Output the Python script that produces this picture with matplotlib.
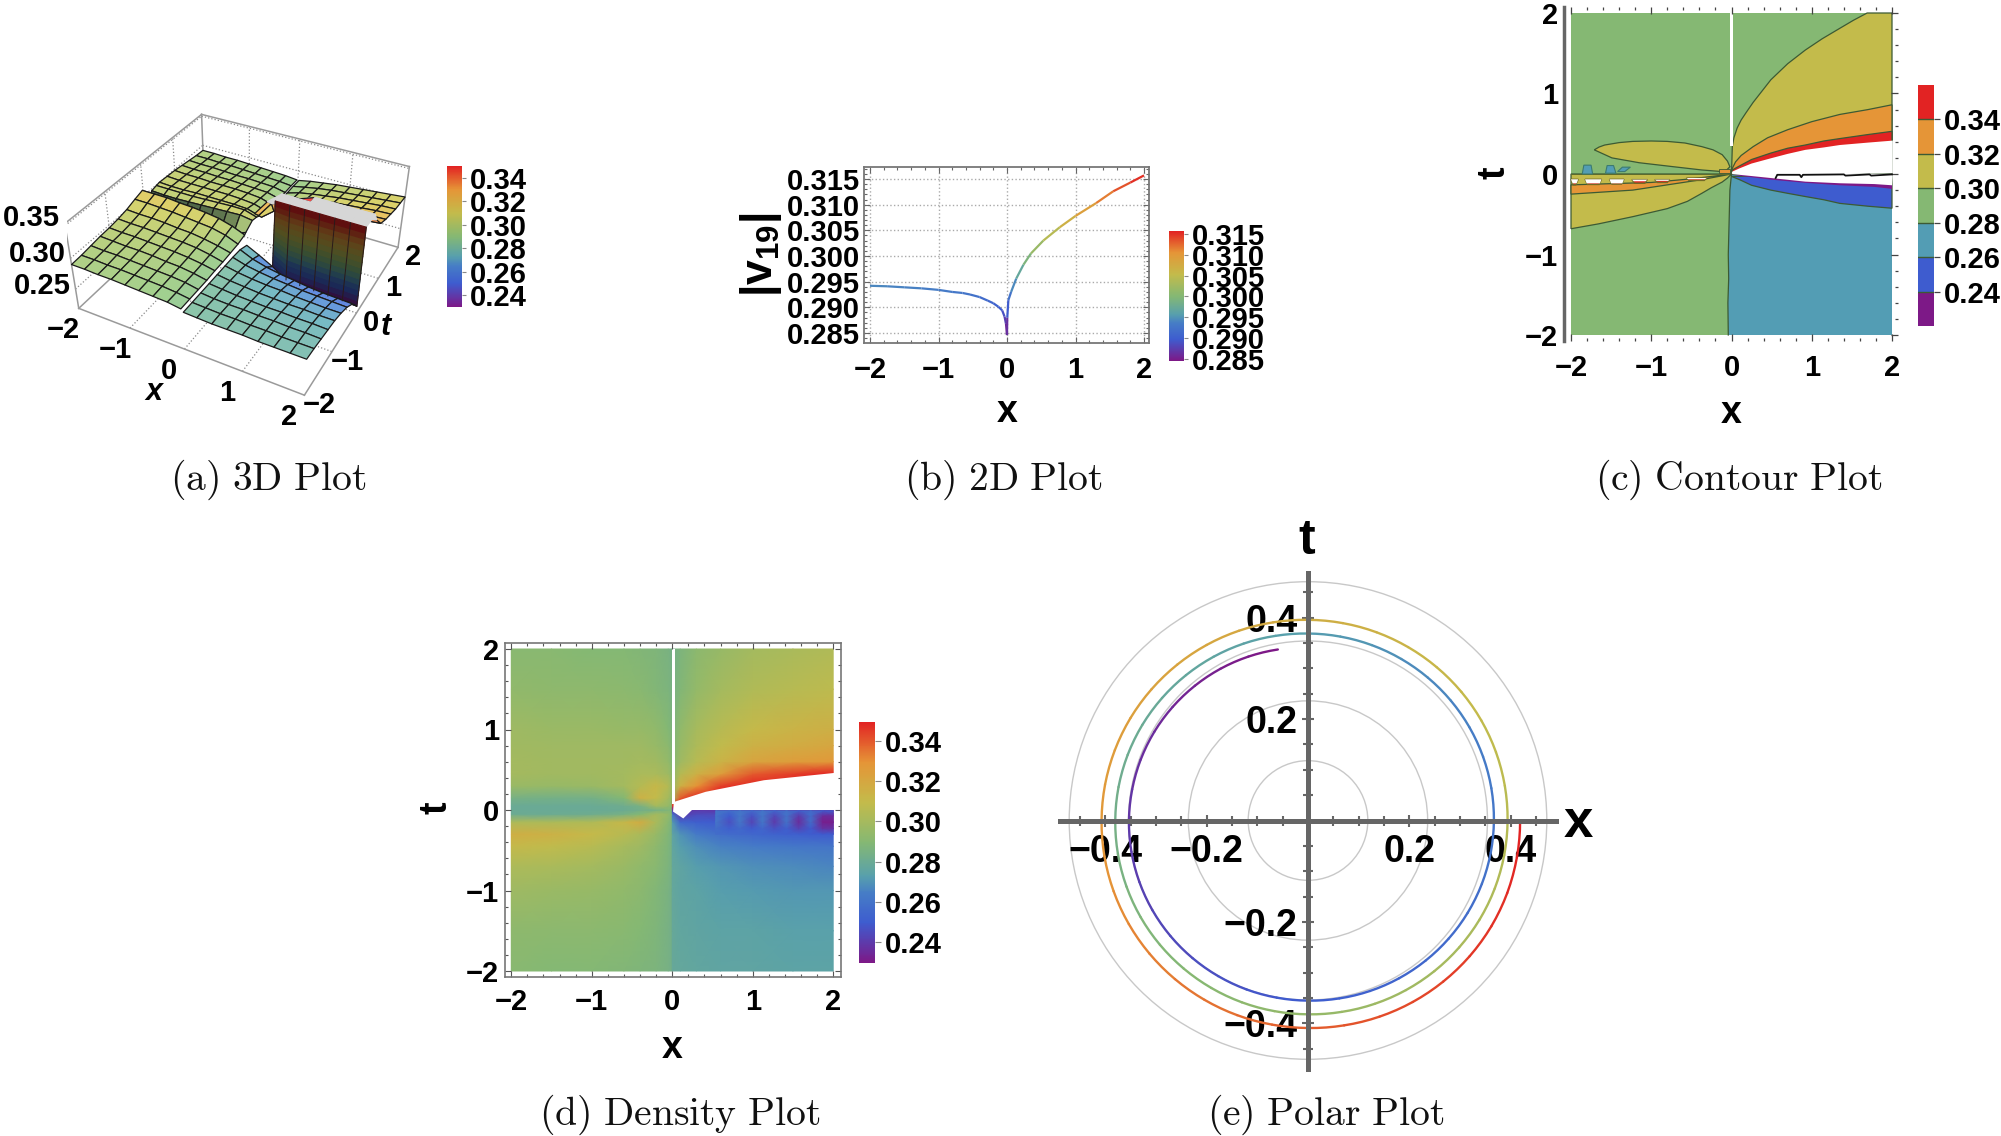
import numpy as np
import matplotlib
matplotlib.use('Agg')
import matplotlib.pyplot as plt
from matplotlib.colors import LinearSegmentedColormap, Normalize, ListedColormap
from matplotlib.cm import ScalarMappable
from matplotlib.collections import LineCollection
from matplotlib.patches import Circle
from matplotlib.ticker import MultipleLocator
from mpl_toolkits.mplot3d import proj3d
from mpl_toolkits.mplot3d.art3d import Poly3DCollection

W, H = 2001, 1136
plt.rcParams['font.family'] = ['Liberation Sans', 'DejaVu Sans']
plt.rcParams['font.weight'] = 'bold'
plt.rcParams['mathtext.fontset'] = 'custom'
plt.rcParams['mathtext.bf'] = 'Liberation Sans:bold'
plt.rcParams['mathtext.rm'] = 'Liberation Sans:bold'

rainbow = LinearSegmentedColormap.from_list('rb', [
    (0.0, (125/255, 25/255, 135/255)), (1/6, (62/255, 92/255, 207/255)), (0.29, (70/255, 125/255, 198/255)),
    (0.36, (88/255, 160/255, 172/255)), (3/6, (133/255, 184/255, 115/255)),
    (4/6, (195/255, 187/255, 75/255)), (5/6, (229/255, 149/255, 55/255)),
    (1.0, (226/255, 35/255, 35/255))])

# ---------- data: panel (b) ----------
b_x = [-2, -1.75, -1.5, -1.25, -1, -0.8, -0.65, -0.54, -0.4, -0.28, -0.2, -0.125, -0.07, -0.036, -0.015, 0,
       0.004, 0.02, 0.06, 0.135, 0.24, 0.35, 0.53, 0.77, 1, 1.3, 1.55, 1.8, 2]
b_y = [0.2942, 0.2941, 0.2939, 0.2937, 0.2934, 0.2930, 0.2928, 0.2925, 0.2920, 0.2913, 0.2908, 0.2901, 0.2894, 0.2882, 0.2868, 0.2846,
       0.2880, 0.2914, 0.2930, 0.2956, 0.2983, 0.3005, 0.3030, 0.3056, 0.3078, 0.3103, 0.3126, 0.3143, 0.3157]
b_ticks_y = [0.285, 0.290, 0.295, 0.300, 0.305, 0.310, 0.315]

# ---------- data: panel (e) ----------
e_theta_deg = list(range(100, 1090, 10))
e_r = [.3425, .344, .3455, .347, .3485, .350, .3512, .3522,
       .3532, .3537, .354, .3542, .3543, .3543, .3544, .3546, .3548, .3553, .3563, .3578, .3593, .3608, .3623, .3638, .3650, .3660,
       .3667, .3672, .3675, .3677, .3678, .3678, .3679, .3681, .3683, .3688, .3698, .3713, .3728, .3743, .3758, .3773, .3785, .3795,
       .3802, .3807, .381, .3812, .3813, .3813, .3814, .3816, .3818, .3823, .3833, .3848, .3863, .3878, .3893, .3908, .392, .393,
       .3937, .3942, .3945, .3947, .3948, .3948, .3949, .3951, .3953, .3958, .3968, .3983, .3998, .4013, .4028, .4043, .4055, .4065,
       .4072, .4077, .408, .4082, .4083, .4083, .4084, .4086, .4088, .4093, .4103, .4118, .4133, .4148, .4163, .4175, .4182, .4184, .4184]
e_grid_r = [0.118, 0.236, 0.354, 0.471]
e_ticks = [-0.4, -0.2, 0.2, 0.4]

# ---------- data: panel (d) ----------
d_x = [-2, -1.5, -1, -.6, -.4, -.2, -.05, -.001, .001, .1, .3, .6, 1, 1.5, 2]
d_t = [-2, -1.5, -1, -.7, -.45, -.3, -.15, -.05, 0, .05, .15, .3, .45, .6, .8, 1, 1.5, 2]
d_z = [
 [.291, .290, .290, .289, .288, .287, .285, .283, .279, .278, .277, .276, .276, .275, .275],
 [.293, .292, .292, .291, .290, .288, .285, .283, .279, .277, .276, .275, .275, .274, .274],
 [.298, .297, .296, .294, .292, .289, .286, .283, .278, .276, .275, .273, .272, .271, .271],
 [.303, .302, .300, .297, .294, .291, .287, .284, .278, .276, .273, .271, .269, .268, .267],
 [.311, .309, .306, .301, .298, .293, .288, .284, .277, .273, .269, .266, .264, .262, .261],
 [.317, .315, .311, .306, .302, .296, .289, .285, .276, .270, .264, .259, .255, .252, .250],
 [.303, .303, .304, .312, .318, .302, .291, .286, .272, .255, .252, .250, .246, .243, .240],
 [.281, .281, .282, .285, .290, .300, .295, .288, .260, .240, .245, .245, .245, .240, .235],
 [.280, .280, .280, .281, .283, .285, .288, .288, .240, .240, .240, .240, .240, .235, .235],
 [.280, .280, .280, .282, .285, .300, .295, .290, .350, .350, .350, .350, .350, .350, .350],
 [.285, .284, .284, .290, .315, .310, .300, .294, .300, .340, .350, .350, .350, .350, .350],
 [.297, .296, .297, .300, .305, .312, .305, .297, .295, .315, .330, .345, .350, .350, .350],
 [.300, .299, .299, .300, .302, .302, .298, .293, .292, .305, .315, .325, .340, .345, .350],
 [.300, .299, .299, .299, .300, .299, .295, .290, .290, .298, .306, .314, .322, .326, .328],
 [.299, .298, .298, .298, .298, .296, .292, .288, .288, .296, .303, .309, .315, .318, .321],
 [.298, .297, .297, .296, .296, .294, .290, .287, .287, .294, .301, .306, .311, .314, .316],
 [.294, .293, .293, .292, .291, .289, .287, .285, .285, .289, .295, .300, .304, .306, .308],
 [.291, .291, .290, .290, .289, .288, .286, .284, .284, .287, .292, .296, .300, .302, .304]]
ds_x = [.54, .71, .84, .99, 1.12, 1.27, 1.42, 1.57, 1.72, 1.87, 2]
ds_t = [-.3, -.23, -.15, -.07, -.01]
ds_z = [[.258, .257, .256, .255, .254, .253, .252, .252, .251, .250, .250],
        [.258, .252, .256, .250, .255, .247, .252, .243, .250, .238, .238],
        [.262, .246, .262, .243, .262, .240, .260, .236, .258, .232, .232],
        [.262, .250, .262, .247, .262, .244, .260, .240, .258, .236, .236],
        [.262, .258, .262, .256, .262, .254, .260, .252, .258, .250, .250]]
d_hole_x = [.02, .415, 1.14, 2.01, 2.01, .245, .137, .01]
d_hole_t = [.10, .226, .37, .46, 0, 0, -.105, -.02]

# ---------- data: panel (c) ----------
c_div_x = [-.04, -.045, -.035, -.04, -.03, -.02, 0]
c_div_t = [-2, -1.6, -1.3, -1, -.6, -.2, 0]
c_30_x = [.01, .03, .07, .12, .18, .27, .38, .49, .7, .92, 1.13, 1.35, 1.52, 1.69]
c_30_t = [.34, .45, .57, .67, .76, .89, 1.03, 1.17, 1.37, 1.54, 1.68, 1.81, 1.91, 2.0]
c_32_x = [.01, .05, .12, .27, .45, .7, 1, 1.35, 1.7, 2]
c_32_t = [.07, .15, .23, .34, .45, .55, .65, .74, .80, .86]
c_34_x = [.01, .1, .25, .49, .7, .92, 1.15, 1.35, 1.7, 2]
c_34_t = [.05, .10, .18, .26, .32, .36, .41, .44, .49, .53]
c_ht_x = [.01, .1, .25, .49, .7, .92, 1.15, 1.35, 1.7, 2.01]
c_ht_t = [.03, .07, .13, .195, .25, .30, .33, .36, .39, .415]
c_pur_x = [0, .49, .92, 1.35, 1.78, 2]
c_pur_top = [0, -.05, -.095, -.115, -.125, -.14]
c_pur_bot = [-.01, -.07, -.11, -.14, -.16, -.185]
c_blu_x = [0, .1, .25, .49, .7, .92, 1.15, 1.35, 1.7, 2]
c_blu_t = [-.03, -.07, -.14, -.2, -.24, -.28, -.32, -.365, -.40, -.425]
c_blk_x = [.55, .57, .85, .87, .89, 1.4, 1.42, 1.72, 1.74, 2]
c_blk_t = [-.05, -.01, -.01, -.04, -.01, -.005, -.02, -.005, -.02, -.005]
c_lo_x = [-2, -1.66, -1.23, -.8, -.55, -.37, -.25, -.116, -.05, 0]
c_lo_t = [-.68, -.62, -.53, -.43, -.34, -.24, -.17, -.1, -.05, 0]
c_or_x = [-2, -1.23, -.37, 0]
c_or_t = [-.25, -.2, -.07, 0]
c_ot_x = [-2, -1, -.5, 0]
c_ot_t = [-.135, -.105, -.06, 0]
c_wh_l = [-2.0, -1.825, -1.52, -1.24, -.955, -.56]
c_wh_r = [-1.91, -1.62, -1.34, -1.05, -.77, -.31]
c_wh_top = [-.066, -.066, -.066, -.07, -.07, -.05]
c_wh_bot = [-.116, -.116, -.116, -.09, -.085, -.065]
c_re_bot = [-.135, -.13, -.125, -.115, -.105, -.08]
c_lobe_x = [-1.71, -1.65, -1.58, -1.4, -1.23, -1.0, -.80, -.58, -.37, -.23, -.116, -.05, -.02, -.06, -.116, -.37, -.72, -1.15, -1.49]
c_lobe_t = [.30, .335, .36, .39, .405, .41, .405, .385, .34, .30, .24, .16, .09, .05, .03, .05, .09, .14, .20]
c_bl1_x = [-1.84, -1.75, -1.73, -1.86]
c_bl1_t = [.11, .11, 0, 0]
c_bl2_x = [-1.55, -1.47, -1.44, -1.57]
c_bl2_t = [.105, .105, .01, .01]
c_bl3_x = [-1.36, -1.26, -1.33, -1.42]
c_bl3_t = [.085, .085, .03, .03]

# ---------- data: panel (a) ----------
a_x = [-2, -1.75, -1.5, -1.25, -1, -.75, -.5, -.25, -.02, .02, .25, .5, .75, 1, 1.25, 1.5, 1.75, 2]
a_t = [-2, -1.75, -1.5, -1.25, -1, -.75, -.5, -.25, -.02, .02, .25, .4, .5, .75, 1, 1.25, 1.5, 1.75, 2]
N = np.nan
a_z = [
 [.290, .290, .289, .289, .288, .287, .286, .285, .282, .278, .277, .276, .276, .276, .275, .275, .275, .275],
 [.291, .291, .290, .290, .289, .288, .287, .285, .282, .278, .277, .276, .276, .275, .275, .274, .274, .274],
 [.293, .292, .292, .291, .290, .289, .288, .286, .282, .278, .276, .275, .275, .274, .274, .273, .273, .272],
 [.295, .294, .293, .293, .292, .290, .289, .286, .282, .278, .276, .274, .273, .272, .272, .271, .271, .270],
 [.296, .295, .295, .294, .293, .292, .290, .287, .283, .278, .275, .273, .271, .270, .269, .269, .268, .268],
 [.298, .297, .297, .296, .295, .294, .292, .288, .283, .278, .274, .271, .269, .268, .266, .265, .264, .264],
 [.301, .300, .300, .299, .297, .296, .293, .289, .284, .278, .272, .268, .265, .263, .261, .260, .259, .258],
 [.306, .306, .305, .304, .302, .300, .298, .293, .285, .277, .268, .262, .258, .255, .252, .250, .249, .248],
 [.310, .310, .310, .308, .307, .305, .302, .296, .288, .272, .262, .250, .235, .233, .232, .231, .231, .230],
 [.270, .270, .270, .272, .274, .276, .278, .282, .290, N, N, .353, .353, .353, .353, .353, .353, .353],
 [.297, .296, .296, .297, .298, .299, .300, .301, .298, .310, .335, .353, .353, .353, .353, .353, .353, .353],
 [.299, .299, .299, .299, .300, .301, .302, .302, .296, .300, .325, .328, .345, .353, .353, .353, .353, .353],
 [.300, .299, .299, .300, .300, .300, .300, .299, .293, .292, .308, .318, .322, .326, .330, .333, .336, .340],
 [.299, .298, .298, .298, .298, .298, .297, .295, .289, .288, .300, .308, .312, .315, .317, .319, .320, .322],
 [.298, .297, .297, .296, .296, .296, .295, .293, .287, .287, .296, .302, .306, .310, .312, .314, .315, .316],
 [.296, .295, .295, .294, .294, .293, .292, .291, .286, .286, .293, .298, .302, .305, .307, .309, .311, .312],
 [.294, .293, .293, .292, .291, .291, .290, .289, .285, .285, .291, .295, .298, .301, .303, .305, .307, .308],
 [.292, .292, .291, .291, .290, .289, .288, .287, .285, .285, .289, .293, .296, .298, .300, .302, .304, .306],
 [.291, .291, .290, .290, .289, .288, .287, .286, .284, .284, .288, .291, .294, .296, .298, .300, .302, .304]]
a_ticks_xy = [-2, -1, 0, 1, 2]
a_ticks_z = [0.25, 0.30, 0.35]
a_zlim = (0.217, 0.353)

cbar_a = [0.24, 0.26, 0.28, 0.30, 0.32, 0.34]
cbar_b = [0.285, 0.290, 0.295, 0.300, 0.305, 0.310, 0.315]

fig = plt.figure(figsize=(W/100, H/100), dpi=100, facecolor='white')


def px_axes(x0, y0, x1, y1, **kw):
    return fig.add_axes([x0/W, 1 - y1/H, (x1-x0)/W, (y1-y0)/H], **kw)


def ftext(x, y, s, **kw):
    kw.setdefault('ha', 'center')
    kw.setdefault('va', 'center')
    return fig.text(x/W, 1 - y/H, s, **kw)


def add_cbar(rect, vmin, vmax, ticks, fs, fmt='%.2f', pad=3, length=4):
    cax = px_axes(*rect)
    cb = fig.colorbar(ScalarMappable(Normalize(vmin, vmax), cmap=rainbow), cax=cax)
    cb.outline.set_visible(False)
    cb.set_ticks(ticks)
    cb.set_ticklabels([fmt % t for t in ticks])
    cax.tick_params(axis='y', length=length, width=0.8, color='#888888', pad=pad, labelsize=fs, direction='out')
    return cb


def caption(x, y, s):
    ftext(x, y, '$\\mathrm{' + s.replace(' ', '\\ ') + '}$', fontsize=28.5, math_fontfamily='cm', color='#111111')


for cx, cy, s in [(268, 480, '(a) 3D Plot'), (1003, 480, '(b) 2D Plot'), (1739, 480, '(c) Contour Plot'),
                  (680, 1115, '(d) Density Plot'), (1326, 1115, '(e) Polar Plot')]:
    caption(cx, cy, s)

XL = ['\u22122', '\u22121', '0', '1', '2']
FS = 21

# ---------- (b) 2D plot ----------
ax = px_axes(864, 167, 1149, 343)
ax.set_xlim(-2 - 6/68.5, 2 + 5/68.5)
per = 0.030 / (333 - 179)
ax.set_ylim(0.285 - (343-333)*per, 0.315 + (179-167)*per)
bx = np.array(b_x); by = np.array(b_y)
segs = np.stack([np.column_stack([bx[:-1], by[:-1]]), np.column_stack([bx[1:], by[1:]])], axis=1)
lc = LineCollection(segs, cmap=rainbow, norm=Normalize(0.2845, 0.3157), linewidth=1.6)
lc.set_array((by[:-1] + by[1:]) / 2)
ax.add_collection(lc)
ax.set_xticks([-2, -1, 0, 1, 2]); ax.set_xticklabels(XL)
ax.set_yticks(b_ticks_y); ax.set_yticklabels(['%.3f' % v for v in b_ticks_y])
ax.xaxis.set_minor_locator(MultipleLocator(0.2)); ax.yaxis.set_minor_locator(MultipleLocator(0.001))
ax.grid(True, which='major', ls=':', lw=1.0, color='#aaaaaa')
ax.tick_params(which='both', direction='in', top=True, right=True, color='#666666', width=0.8)
ax.tick_params(which='major', length=4)
ax.tick_params(which='minor', length=2)
ax.tick_params(axis='x', which='major', pad=9, labelsize=FS)
ax.tick_params(axis='y', which='major', pad=3, labelsize=FS)
for sp in ax.spines.values():
    sp.set_color('#777777'); sp.set_linewidth(1.3)
ftext(1007, 412, 'x', fontsize=27)
ftext(761, 255, '$\\mathbf{|v_{19}|}$', fontsize=32, rotation=90)
add_cbar((1169, 231, 1184, 361), 0.2845, 0.3157, cbar_b, FS, fmt='%.3f', pad=3, length=3)

# ---------- (c) contour plot ----------
ax = px_axes(1563.5, 7, 1898, 341)
ax.set_xlim(-2 - 7.5/80.25, 2 + 6/80.25)
ax.set_ylim(-2 - 6/80.5, 2 + 6/80.5)
GREEN = (133/255, 184/255, 115/255); TEAL = (83/255, 157/255, 180/255); OLIVE = (195/255, 187/255, 75/255)
ORANGE = (229/255, 149/255, 55/255); RED = (226/255, 35/255, 35/255); BLUE = (62/255, 92/255, 207/255)
PURPLE = (125/255, 25/255, 135/255)
DK = '#3c5a34'
LINE = dict(edgecolor=DK, linewidth=0.9)
ax.fill([-2, 2, 2, -2], [-2, -2, 2, 2], color=GREEN, lw=0)
ax.fill(c_div_x + [2, 2], c_div_t + [0, -2], facecolor=TEAL, edgecolor='none')
ax.plot(c_div_x, c_div_t, color=DK, lw=0.9)
ax.fill(c_30_x + [2, 2, 0], c_30_t + [2, 0, 0], facecolor=OLIVE, **LINE)
ax.fill(c_32_x + [2, 0], c_32_t + [0, 0], facecolor=ORANGE, **LINE)
ax.fill(c_34_x + [2, 0], c_34_t + [0, 0], facecolor=RED, **LINE)
ax.fill(c_ht_x + [2.01, 0], c_ht_t + [0, 0], facecolor='white', edgecolor='none', clip_on=False)
ax.fill(c_blu_x + [2], c_blu_t + [0], facecolor=BLUE, **LINE)
ax.fill(c_pur_x + [2], c_pur_bot + [0], facecolor=PURPLE, edgecolor='none')
ax.fill(c_pur_x + [2.01, 0], c_pur_top + [0, 0], facecolor='white', edgecolor='none', clip_on=False)
ax.plot(c_blk_x, c_blk_t, color='#111111', lw=1.3)
ax.fill(c_lo_x + [-2], c_lo_t + [0], facecolor=OLIVE, **LINE)
ax.fill(c_lobe_x, c_lobe_t, facecolor=OLIVE, **LINE)
ax.fill(c_or_x + c_ot_x[::-1], c_or_t + c_ot_t[::-1], facecolor=ORANGE, **LINE)
for l, r, tp, bt, rb in zip(c_wh_l, c_wh_r, c_wh_top, c_wh_bot, c_re_bot):
    ax.fill([l, r, r - 0.03, l + 0.03], [tp, tp, rb, rb], facecolor=RED, edgecolor=(.45, .42, .15), linewidth=1.0)
    ax.fill([l, r, r - 0.02, l + 0.02], [tp, tp, bt, bt], facecolor='white', edgecolor='none')
ax.fill([-2, -.02, -.02, -2], [-.016, -.016, -.004, -.004], facecolor='#5d6b2c', edgecolor='none')
ax.fill([-.16, -.02, -.02, -.16], [.01, .01, .06, .06], facecolor=ORANGE, edgecolor=DK, linewidth=0.6)
for bx_, bt_ in [(c_bl1_x, c_bl1_t), (c_bl2_x, c_bl2_t), (c_bl3_x, c_bl3_t)]:
    ax.fill(bx_, bt_, facecolor=TEAL, edgecolor='#3c7a70', linewidth=0.8)
ax.fill([-.02, .02, .02, -.02], [.35, .35, 2, 2], color='white', lw=0)
ax.set_xticks([-2, -1, 0, 1, 2]); ax.set_xticklabels(XL)
ax.set_yticks([-2, -1, 0, 1, 2]); ax.set_yticklabels(XL)
ax.xaxis.set_minor_locator(MultipleLocator(0.2)); ax.yaxis.set_minor_locator(MultipleLocator(0.2))
ax.tick_params(which='both', direction='in', top=True, right=True, left=False, color='#444444', width=0.9)
ax.tick_params(which='major', length=5); ax.tick_params(which='minor', length=2.5)
ax.tick_params(axis='x', pad=9, labelsize=FS); ax.tick_params(axis='y', which='major', pad=4, labelsize=FS)
for k in ['top', 'right', 'bottom']:
    ax.spines[k].set_visible(False)
ax.spines['left'].set_color('#666666'); ax.spines['left'].set_linewidth(2.5)
ftext(1731.6, 413, 'x', fontsize=27)
ftext(1494.5, 173, 't', fontsize=27, rotation=90)
cax = px_axes(1917.6, 85, 1933.8, 326)
band_lv = [0.22, 0.24, 0.26, 0.28, 0.30, 0.32, 0.34, 0.36]
band_col = [PURPLE, BLUE, TEAL, GREEN, OLIVE, ORANGE, RED]
cax.pcolormesh([0, 1], band_lv, np.arange(7).reshape(-1, 1), cmap=ListedColormap(band_col), shading='flat')
cax.set_xticks([]); cax.yaxis.tick_right()
cax.set_yticks(cbar_a); cax.set_yticklabels(['%.2f' % v for v in cbar_a])
cax.tick_params(axis='y', length=4, width=0.9, color='#444444', pad=3, labelsize=FS)
for sp in cax.spines.values():
    sp.set_visible(False)
for lv in cbar_a:
    cax.plot([0, 1], [lv, lv], color=DK, lw=1.0)
cax.set_xlim(0, 1); cax.set_ylim(0.22, 0.36)

# ---------- (d) density plot ----------
ax = px_axes(504.7, 643, 840.5, 977)
ax.set_xlim(-2 - 6.6/80.5, 2 + 7.3/80.5)
ax.set_ylim(-2 - 6/80.5, 2 + 6/80.5)
norm_d = Normalize(0.23, 0.35)
XD, TD = np.meshgrid(d_x, d_t)
ax.pcolormesh(XD, TD, np.array(d_z), cmap=rainbow, norm=norm_d, shading='gouraud')
XS, TS = np.meshgrid(ds_x, ds_t)
ax.pcolormesh(XS, TS, np.array(ds_z), cmap=rainbow, norm=norm_d, shading='gouraud')
ax.fill(d_hole_x, d_hole_t, color='white', lw=0)
ax.fill([-.0, .035, .035, -.0], [.08, .08, 2, 2], color='white', lw=0)
ax.set_xticks([-2, -1, 0, 1, 2]); ax.set_xticklabels(XL)
ax.set_yticks([-2, -1, 0, 1, 2]); ax.set_yticklabels(XL)
ax.xaxis.set_minor_locator(MultipleLocator(0.2)); ax.yaxis.set_minor_locator(MultipleLocator(0.2))
ax.tick_params(which='both', direction='in', top=True, right=True, color='#555555', width=0.8)
ax.tick_params(which='major', length=4); ax.tick_params(which='minor', length=2)
ax.tick_params(axis='x', pad=8, labelsize=FS); ax.tick_params(axis='y', which='major', pad=4, labelsize=FS)
for sp in ax.spines.values():
    sp.set_color('#777777'); sp.set_linewidth(1.2)
ftext(672.4, 1048, 'x', fontsize=27)
ftext(436.5, 808, 't', fontsize=27, rotation=90)
add_cbar((859.4, 722, 875, 963), 0.2295, 0.3495, cbar_a, FS, pad=3)

# ---------- (e) polar plot ----------
CX, CY, S, EXT = 1308, 820.5, 507, 248
ax = px_axes(CX - EXT, CY - EXT, CX + EXT, CY + EXT)
ax.set_xlim(-EXT/S, EXT/S); ax.set_ylim(-EXT/S, EXT/S)
for r in e_grid_r:
    ax.add_patch(Circle((0, 0), r, fill=False, edgecolor='#c8c8c8', linewidth=1.0))
# each read step is swept as a polar segment between two read values, as a polar axis would draw it
segs_e, seg_c = [], []
for k in range(len(e_r) - 1):
    s_ = np.linspace(0, 1, 5)
    th = np.radians(e_theta_deg[k] + (e_theta_deg[k+1]-e_theta_deg[k])*s_)
    rr = e_r[k] + (e_r[k+1]-e_r[k])*s_
    segs_e.append(np.column_stack([rr*np.cos(th), rr*np.sin(th)]))
    seg_c.append(k)
lc = LineCollection(segs_e, cmap=rainbow, norm=Normalize(0, len(e_r)-2), linewidth=1.7, capstyle='round')
lc.set_array(np.array(seg_c))
ax.add_collection(lc)
for k in ['top', 'right']:
    ax.spines[k].set_visible(False)
for k in ['left', 'bottom']:
    ax.spines[k].set_position('zero'); ax.spines[k].set_color('#666666'); ax.spines[k].set_linewidth(3.6)
ETL = ['\u22120.4', '\u22120.2', '0.2', '0.4']
ax.set_xticks(e_ticks); ax.set_xticklabels(ETL)
ax.set_yticks(e_ticks); ax.set_yticklabels(ETL)
ax.xaxis.set_minor_locator(MultipleLocator(0.05)); ax.yaxis.set_minor_locator(MultipleLocator(0.05))
ax.tick_params(which='both', direction='inout', color='#666666', width=1.5)
ax.tick_params(which='major', length=9); ax.tick_params(which='minor', length=7)
ax.tick_params(axis='x', which='major', pad=5, labelsize=27); ax.tick_params(axis='y', which='major', pad=3, labelsize=27)
ax.patch.set_alpha(0)
ftext(1578, 823, 'x', fontsize=38)
ftext(1307, 541, 't', fontsize=36)

# ---------- (a) 3D plot ----------
ax3 = fig.add_axes([0, 0, 1, 1], projection='3d')
ax3.set_axis_off(); ax3.patch.set_alpha(0)
ax3.set_xlim(-2, 2); ax3.set_ylim(-2, 2); ax3.set_zlim(*a_zlim)
zl, zt = a_zlim
ax3.set_box_aspect((1, 1, 0.42)); ax3.set_proj_type('persp', focal_length=0.42); ax3.view_init(36, -62)
sx, sy, tx, ty = 1892.4, 1883.1, 246.3, 236.5
vl = ax3.viewLim
left = tx + sx*vl.x0; right = tx + sx*vl.x1; top = ty - sy*vl.y1; bottom = ty - sy*vl.y0
ax3.apply_aspect = lambda position=None: None
ax3.set_position([left/W, 1 - bottom/H, (right-left)/W, (bottom-top)/H], which='both')
ax3.computed_zorder = False

GRIDC = '#8a8a8a'; BOXC = '#9a9a9a'
def l3(xs, ys, zs, **kw):
    ax3.plot(xs, ys, zs, **kw)
for v in [-1, 0, 1]:
    l3([v, v], [-2, 2], [zl, zl], color=GRIDC, ls=':', lw=0.9, zorder=1)
    l3([-2, 2], [v, v], [zl, zl], color=GRIDC, ls=':', lw=0.9, zorder=1)
    l3([-2, -2], [v, v], [zl, zt], color=GRIDC, ls=':', lw=0.9, zorder=1)
    l3([v, v], [2, 2], [zl, zt], color=GRIDC, ls=':', lw=0.9, zorder=1)
for v in a_ticks_z:
    l3([-2, -2], [-2, 2], [v, v], color=GRIDC, ls=':', lw=0.9, zorder=1)
    l3([-2, 2], [2, 2], [v, v], color=GRIDC, ls=':', lw=0.9, zorder=1)
for p, q in [((-2, -2, zl), (2, -2, zl)), ((2, -2, zl), (2, 2, zl)), ((2, 2, zl), (-2, 2, zl)), ((-2, 2, zl), (-2, -2, zl)),
             ((-2, -2, zl), (-2, -2, zt)), ((-2, 2, zl), (-2, 2, zt)), ((2, 2, zl), (2, 2, zt)),
             ((-2, -2, zt), (-2, 2, zt)), ((-2, 2, zt), (2, 2, zt))]:
    l3([p[0], q[0]], [p[1], q[1]], [p[2], q[2]], color=BOXC, lw=1.1, zorder=1)

norm_a = Normalize(0.231, 0.348)
Z = np.array(a_z)
polys, fcs, ecs = [], [], []
for i in range(len(a_t) - 1):
    for j in range(len(a_x) - 1):
        if j == 8:
            continue
        q = Z[i:i+2, j:j+2]
        if np.isnan(q).any():
            continue
        x0, x1, t0, t1 = a_x[j], a_x[j+1], a_t[i], a_t[i+1]
        dz = q[1].mean() - q[0].mean()
        slope = dz / (t1 - t0)
        if slope > 0.5 and abs(dz) > 0.03:
            for k in range(14):
                u0, u1 = k/14, (k+1)/14
                z00 = q[0, 0] + (q[1, 0]-q[0, 0])*u0; z01 = q[0, 1] + (q[1, 1]-q[0, 1])*u0
                z10 = q[0, 0] + (q[1, 0]-q[0, 0])*u1; z11 = q[0, 1] + (q[1, 1]-q[0, 1])*u1
                tt0 = t0 + (t1-t0)*u0; tt1 = t0 + (t1-t0)*u1
                polys.append([(x0, tt0, z00), (x1, tt0, z01), (x1, tt1, z11), (x0, tt1, z10)])
                c = np.array(rainbow(norm_a((z00+z01+z10+z11)/4)))[:3] * 0.42
                fcs.append(tuple(c)); ecs.append(tuple(c))
            continue
        polys.append([(x0, t0, q[0, 0]), (x1, t0, q[0, 1]), (x1, t1, q[1, 1]), (x0, t1, q[1, 0])])
        if q.min() >= 0.3525 or (q.max() >= 0.35 and slope < -0.05):
            c = (0.84, 0.84, 0.84); e = (0.84, 0.84, 0.84)
        else:
            base = np.array(rainbow(norm_a(q.mean() + 0.004)))[:3]
            shade = 1.0 if slope < 0.05 else max(0.5, 1 - (slope - 0.05)*9)
            c = tuple(np.clip((base*0.86 + 0.14)*1.07*shade, 0, 1)); e = (0.1, 0.1, 0.1)
        fcs.append(c); ecs.append(e)
pc = Poly3DCollection(polys, facecolors=fcs, edgecolors=ecs, linewidths=0.9, zorder=2)
ax3.add_collection3d(pc)
for j in range(11, len(a_x)):
    l3([a_x[j], a_x[j]], [-.02, .02], [Z[8, j], Z[9, j]], color='#2a1a1a', lw=0.7, zorder=3)
ax3.set_xlim(-2, 2); ax3.set_ylim(-2, 2); ax3.set_zlim(*a_zlim)

M3 = ax3.get_proj()
def ann3(x, y, z, s, dx, dy, **kw):
    X, Y, _ = proj3d.proj_transform(x, y, z, M3)
    ax3.annotate(s, xy=(X, Y), xycoords='data', xytext=(dx, dy), textcoords='offset pixels', ha=kw.pop('ha', 'center'), va='center', annotation_clip=False, **kw)
LAB = {-2: '\u22122', -1: '\u22121', 0: '0', 1: '1', 2: '2'}
for v in a_ticks_xy:
    ann3(v, -2, zl, LAB[v], -15, -22, fontsize=FS)
    ann3(2, v, zl, LAB[v], 15, -10, fontsize=FS)
for v, dy in zip(a_ticks_z, [3, 4, 8]):
    ann3(-2, -2, v, '%.2f' % v, -5, dy, fontsize=FS, ha='right')
ftext(154, 392, 'x', fontsize=22, style='italic')
ftext(386, 327, 't', fontsize=22, style='italic')
add_cbar((447, 166, 462, 307), 0.2302, 0.3498, cbar_a, FS, pad=3, length=3)

fig.savefig('out.png', dpi=100)
